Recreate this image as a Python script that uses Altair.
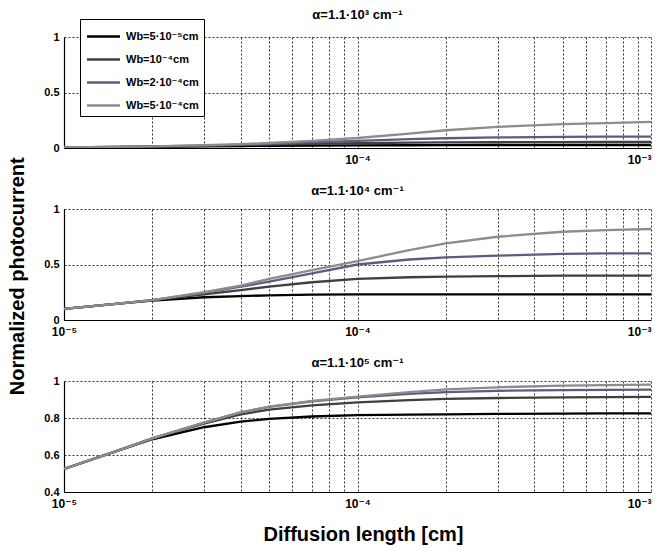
import altair as alt
import pandas as pd

L = [1e-5, 1.5e-5, 2e-5, 3e-5, 4e-5, 5e-5, 7e-5, 1e-4, 1.5e-4, 2e-4, 3e-4, 5e-4, 7e-4, 1e-3]
series = ["Wb=5·10⁻⁵cm", "Wb=10⁻⁴cm", "Wb=2·10⁻⁴cm", "Wb=5·10⁻⁴cm"]
colors = ["#000000", "#3f3f3f", "#5c5c80", "#8c8c8c"]
titles = ["α=1.1·10³ cm⁻¹", "α=1.1·10⁴ cm⁻¹", "α=1.1·10⁵ cm⁻¹"]

# panel 1: alpha = 1.1e3
p1_w1 = [0.004, 0.008, 0.010, 0.014, 0.017, 0.020, 0.022, 0.024, 0.025, 0.026, 0.027, 0.027, 0.027, 0.027]
p1_w2 = [0.005, 0.010, 0.013, 0.020, 0.025, 0.030, 0.037, 0.043, 0.048, 0.050, 0.052, 0.053, 0.054, 0.054]
p1_w3 = [0.005, 0.010, 0.015, 0.022, 0.030, 0.038, 0.050, 0.065, 0.080, 0.088, 0.095, 0.100, 0.102, 0.103]
p1_w4 = [0.005, 0.010, 0.015, 0.025, 0.035, 0.045, 0.065, 0.090, 0.130, 0.160, 0.190, 0.215, 0.225, 0.235]
# panel 2: alpha = 1.1e4
p2_w1 = [0.10, 0.145, 0.175, 0.205, 0.215, 0.222, 0.228, 0.23, 0.23, 0.23, 0.23, 0.23, 0.23, 0.23]
p2_w2 = [0.10, 0.145, 0.180, 0.230, 0.270, 0.300, 0.340, 0.370, 0.385, 0.390, 0.395, 0.400, 0.400, 0.400]
p2_w3 = [0.10, 0.145, 0.180, 0.245, 0.300, 0.345, 0.420, 0.500, 0.545, 0.565, 0.580, 0.595, 0.600, 0.600]
p2_w4 = [0.10, 0.145, 0.180, 0.250, 0.310, 0.370, 0.450, 0.530, 0.630, 0.690, 0.750, 0.795, 0.810, 0.820]
# panel 3: alpha = 1.1e5
p3_w1 = [0.525, 0.620, 0.685, 0.750, 0.780, 0.795, 0.808, 0.815, 0.818, 0.820, 0.822, 0.824, 0.825, 0.825]
p3_w2 = [0.525, 0.620, 0.690, 0.770, 0.820, 0.845, 0.868, 0.885, 0.897, 0.903, 0.908, 0.912, 0.913, 0.914]
p3_w3 = [0.525, 0.620, 0.690, 0.775, 0.830, 0.860, 0.890, 0.912, 0.930, 0.940, 0.947, 0.951, 0.952, 0.953]
p3_w4 = [0.525, 0.620, 0.690, 0.775, 0.830, 0.862, 0.893, 0.915, 0.940, 0.955, 0.966, 0.975, 0.978, 0.980]

panels = [[p1_w1, p1_w2, p1_w3, p1_w4], [p2_w1, p2_w2, p2_w3, p2_w4], [p3_w1, p3_w2, p3_w3, p3_w4]]
y_domains = [[0, 1], [0, 1], [0.4, 1]]
y_ticks = [[0, 0.5, 1], [0, 0.5, 1], [0.4, 0.6, 0.8, 1]]
title_offsets = [-3, 5, 5]
x_grid = [k * 10.0 ** e for e in (-5, -4) for k in range(1, 10)] + [1e-3]

FONT = "Liberation Sans, DejaVu Sans, sans-serif"
W, H = 587, 111

lab_all = ("datum.value < 1.5e-5 ? '10⁻⁵' : (abs(datum.value - 1e-4) < 1e-9 ? '10⁻⁴' : "
           "(datum.value > 9.5e-4 ? '10⁻³' : ''))")
lab_no_first = ("abs(datum.value - 1e-4) < 1e-9 ? '10⁻⁴' : (datum.value > 9.5e-4 ? '10⁻³' : '')")


def make_panel(i):
    rows = []
    for s, vals in zip(series, panels[i]):
        for x, y in zip(L, vals):
            rows.append({"L": x, "v": y, "Wb": s, "o": series.index(s)})
    df = pd.DataFrame(rows)

    xaxis_kw = dict(values=x_grid, grid=True, gridDash=[2, 2], gridColor="#000000", gridOpacity=1,
                    gridWidth=0.8, ticks=False, labelOverlap=False, labelFlush=False,
                    labelAlign={"condition": {"test": "datum.value > 9.5e-4", "value": "right"},
                                "value": "center"},
                    labelExpr=lab_no_first if i == 0 else lab_all,
                    labelFont=FONT, labelFontSize=12, labelFontWeight="bold", labelColor="#000000",
                    labelPadding=6, domainColor="#000000", domainWidth=1.2, title="")
    if i == 2:
        xaxis_kw.update(title="Diffusion length [cm]", titleFont=FONT, titleFontSize=20,
                        titleFontWeight="bold", titleColor="#000000", titleBaseline="middle",
                        titleY=42, titleX=299)
    yaxis_kw = dict(values=y_ticks[i], grid=True, gridDash=[2, 2], gridColor="#000000", gridOpacity=1,
                    gridWidth=0.8, ticks=False, format="~g", labelFont=FONT, labelFontSize=11,
                    labelFontWeight="bold", labelColor="#000000", labelPadding=5,
                    domainColor="#000000", domainWidth=1.2, title="")

    if i == 0:
        legend = alt.Legend(orient="none", legendX=16, legendY=-18, title=None,
                            fillColor="white", strokeColor="#000000", padding=5,
                            symbolType="M-1.5,0H1.5", symbolSize=484, symbolStrokeWidth=2.5,
                            symbolOffset=6, rowPadding=5, labelFont=FONT, labelFontSize=11,
                            labelFontWeight="bold", labelColor="#000000", labelOffset=10)
    else:
        legend = None

    ch = alt.Chart(df).mark_line(strokeWidth=2.3, clip=True).encode(
        x=alt.X("L:Q", scale=alt.Scale(type="log", domain=[1e-5, 1e-3], nice=False),
                axis=alt.Axis(**xaxis_kw)),
        y=alt.Y("v:Q", scale=alt.Scale(domain=y_domains[i], nice=False, zero=False),
                axis=alt.Axis(**yaxis_kw)),
        color=alt.Color("Wb:N", sort=series,
                        scale=alt.Scale(domain=series, range=colors), legend=legend),
        order=alt.Order("o:Q"),
        detail="Wb:N",
    ).properties(
        width=W, height=H,
        title=alt.TitleParams(titles[i], font=FONT, fontSize=13, fontWeight="bold",
                              color="#000000", anchor="middle", offset=title_offsets[i],
                              frame="group"),
    )
    return ch


chart = alt.vconcat(make_panel(0), make_panel(1), make_panel(2), spacing=18).resolve_legend(
    color="independent"
).properties(
    title=alt.TitleParams("Normalized photocurrent", orient="left", anchor="middle", font=FONT,
                          fontSize=20, fontWeight="bold", color="#000000", offset=15),
    padding={"left": 8, "top": 8, "right": 4, "bottom": 5},
    background="white",
).configure_view(stroke="transparent")

chart.save("out.html", embed_options={"renderer": "svg", "actions": False})
